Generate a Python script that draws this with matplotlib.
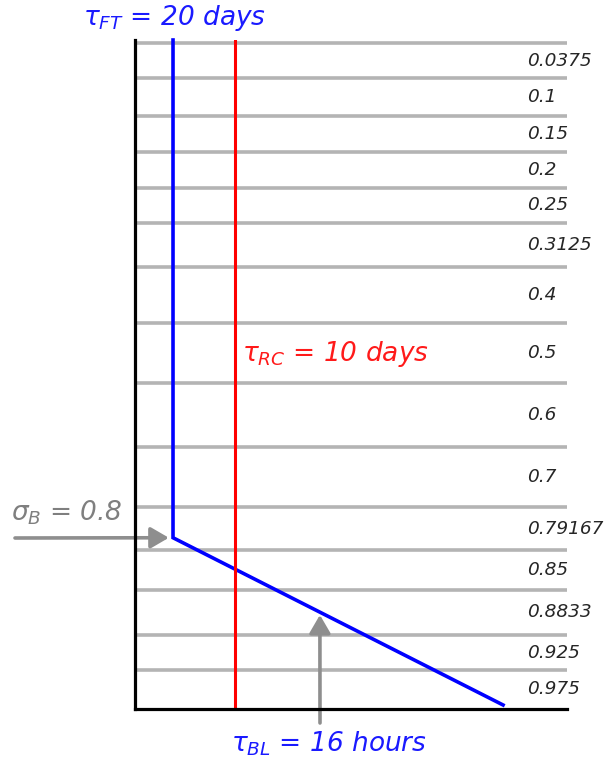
import numpy as np
import matplotlib
matplotlib.use('Agg')
import matplotlib.pyplot as plt

# ---- data -------------------------------------------------------------
# sigma values at level centres (printed at the right)
sigma_labels = ['0.0375', '0.1', '0.15', '0.2', '0.25', '0.3125', '0.4', '0.5',
                '0.6', '0.7', '0.79167', '0.85', '0.8833', '0.925', '0.975']
# schematic depth of the level interfaces (0 = model top, 1 = surface)
level_edges = [0.004, 0.0573, 0.1136, 0.1679, 0.2212, 0.2735, 0.3393, 0.4230,
               0.5127, 0.6084, 0.6981, 0.7623, 0.8221, 0.8894, 0.9417, 1.0]
# schematic relaxation-rate profiles (x = inverse time scale, schematic)
damp_depth = [0.0, 0.744, 0.994]      # free troposphere -> sigma_B -> surface
damp_rate = [0.088, 0.088, 0.852]     # 1/tau_FT ... 1/tau_BL
rc_rate = 0.2315                      # 1/tau_RC (constant)
sigma_b_label = r'$\sigma_B$ = 0.8'
tau_ft_label = r'$\tau_{FT}$ = 20 days'
tau_rc_label = r'$\tau_{RC}$ = 10 days'
tau_bl_label = r'$\tau_{BL}$ = 16 hours'
bl_arrow_rate = 0.428                 # where the tau_BL arrow points

# ---- figure -----------------------------------------------------------
W, H = 611, 762
fig = plt.figure(figsize=(W / 100, H / 100), dpi=100)
ax = fig.add_axes([135 / W, 1 - 709 / H, 432 / W, 669 / H])
ax.set_xlim(0, 1)
ax.set_ylim(1, 0)
for s in ['top', 'right']:
    ax.spines[s].set_visible(False)
for s in ['left', 'bottom']:
    ax.spines[s].set_color('black')
    ax.spines[s].set_linewidth(2.3)
    ax.spines[s].set_zorder(6)
ax.set_xticks([])
ax.set_yticks([])

gray = '#b4b4b4'
for e in level_edges[:-1]:
    ax.axhline(e, color=gray, lw=2.6, zorder=1, solid_capstyle='butt')

mids = [(a + b) / 2 for a, b in zip(level_edges[:-1], level_edges[1:])]
for lab, m in zip(sigma_labels, mids):
    ax.text(0.908, m, lab, ha='left', va='center', fontsize=13.3,
            fontstyle='italic', color='#262626', family='DejaVu Sans')

ax.plot(damp_rate, damp_depth, color='#0000ff', lw=2.6, zorder=3,
        solid_joinstyle='miter', clip_on=False)
ax.axvline(rc_rate, color='#ff0000', lw=2.2, zorder=4)

arrow_gray = '#8e8e8e'
ax.annotate('', xy=(damp_rate[1], damp_depth[1]), xycoords='data',
            xytext=(15, H - 538), textcoords='figure pixels',
            arrowprops=dict(arrowstyle='-|>,head_length=0.55,head_width=0.32',
                            mutation_scale=20, color=arrow_gray, lw=2.6,
                            shrinkA=0, shrinkB=3),
            annotation_clip=False)
y_tip = np.interp(bl_arrow_rate, damp_rate[1:], damp_depth[1:])
ax.annotate('', xy=(bl_arrow_rate, y_tip), xycoords='data',
            xytext=(320, H - 723), textcoords='figure pixels',
            arrowprops=dict(arrowstyle='-|>,head_length=0.55,head_width=0.32',
                            mutation_scale=20, color=arrow_gray, lw=2.6,
                            shrinkA=0, shrinkB=2),
            annotation_clip=False)

fs = 19
fig.text(83 / W, 1 - 18 / H, tau_ft_label, color='#1a1aff', fontsize=fs,
         fontstyle='italic', ha='left', va='center')
fig.text(242 / W, 1 - 354 / H, tau_rc_label, color='#ff1a1a', fontsize=fs,
         fontstyle='italic', ha='left', va='center')
fig.text(11 / W, 1 - 513 / H, sigma_b_label, color='#7f7f7f', fontsize=fs,
         fontstyle='italic', ha='left', va='center')
fig.text(231 / W, 1 - 744 / H, tau_bl_label, color='#1a1aff', fontsize=fs,
         fontstyle='italic', ha='left', va='center')

fig.savefig('out.png', dpi=100)
